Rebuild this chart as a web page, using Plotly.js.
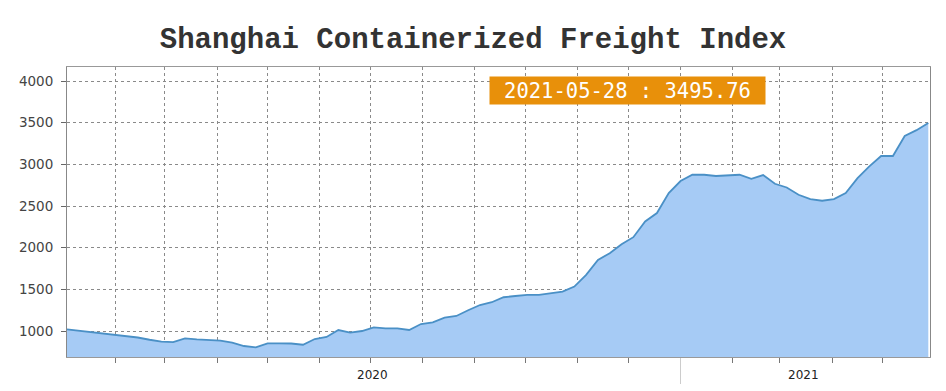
<!DOCTYPE html>
<html>
<head>
<meta charset="utf-8">
<script src="https://cdn.plot.ly/plotly-3.0.1.min.js"></script>
<style>html,body{margin:0;padding:0;background:#fff;}#chart{width:946px;height:391px;}</style>
</head>
<body>
<div id="chart"></div>
<script>
// Weekly SCFI dates (Fridays)
const dates = [
  '2020-01-03','2020-01-10','2020-01-17','2020-01-24','2020-01-31',
  '2020-02-07','2020-02-14','2020-02-21','2020-02-28',
  '2020-03-06','2020-03-13','2020-03-20','2020-03-27',
  '2020-04-03','2020-04-10','2020-04-17','2020-04-24',
  '2020-05-01','2020-05-08','2020-05-15','2020-05-22','2020-05-29',
  '2020-06-05','2020-06-12','2020-06-19','2020-06-26',
  '2020-07-03','2020-07-10','2020-07-17','2020-07-24','2020-07-31',
  '2020-08-07','2020-08-14','2020-08-21','2020-08-28',
  '2020-09-04','2020-09-11','2020-09-18','2020-09-25',
  '2020-10-02','2020-10-09','2020-10-16','2020-10-23','2020-10-30',
  '2020-11-06','2020-11-13','2020-11-20','2020-11-27',
  '2020-12-04','2020-12-11','2020-12-18','2020-12-25',
  '2021-01-01','2021-01-08','2021-01-15','2021-01-22','2021-01-29',
  '2021-02-05','2021-02-12','2021-02-19','2021-02-26',
  '2021-03-05','2021-03-12','2021-03-19','2021-03-26',
  '2021-04-02','2021-04-09','2021-04-16','2021-04-23','2021-04-30',
  '2021-05-07','2021-05-14','2021-05-21','2021-05-28'
];
// Index values
const scfi = [
  1020,1003,987,970,955,
  938,922,895,872,
  866,912,900,888,
  884,860,820,804,
  852,852,850,835,904,
  928,1012,980,1000,
  1044,1032,1032,1012,1084,
  1104,1160,1180,1249,
  1312,1345,1405,1420,
  1433,1433,1450,1473,1533,
  1673,1853,1934,2042,
  2126,2314,2415,2655,
  2800,2875,2875,2860,2863,
  2875,2827,2871,2767,
  2722,2635,2583,2563,
  2583,2655,2835,2975,3100,
  3100,3340,3410,3495.76
];
// Axis labels
const yearLabels = ['2020', '2021'];
const yearLabelPos = ['2020-07-02', '2021-03-15'];
const yearBoundary = ['2021-01-01'];
const titleText = 'Shanghai Containerized Freight Index';

const lastDate = dates[dates.length - 1];
const lastVal = scfi[scfi.length - 1];

const trace = {
  x: dates, y: scfi, type: 'scatter', mode: 'lines',
  fill: 'tozeroy', fillcolor: '#a6cbf5',
  line: {color: '#4a90c6', width: 1.8},
  hoverinfo: 'skip'
};

const gridStyle = {color: '#8a8a8a', dash: 'dot'};

const layout = {
  width: 946, height: 391,
  margin: {l: 67, r: 16, t: 67, b: 34},
  paper_bgcolor: '#ffffff', plot_bgcolor: '#ffffff',
  showlegend: false,
  title: {
    text: titleText,
    font: {family: 'Liberation Mono', size: 29, color: '#333333', weight: 'bold'},
    x: 0.5, xanchor: 'center', y: 1 - 38/391, yanchor: 'middle', yref: 'container'
  },
  xaxis: {
    type: 'date',
    range: ['2020-01-03', '2021-05-29'],
    tickmode: 'array', tickvals: yearBoundary, ticktext: [''],
    ticks: 'outside', ticklen: 26, tickcolor: '#cccccc', tickwidth: 1,
    showgrid: true, gridcolor: gridStyle.color, griddash: gridStyle.dash, gridwidth: 1,
    minor: {
      tickmode: 'linear', tick0: '2020-02-01', dtick: 'M1',
      ticks: 'outside', ticklen: 5, tickcolor: '#777777', tickwidth: 1,
      showgrid: true, gridcolor: gridStyle.color, griddash: gridStyle.dash, gridwidth: 1
    },
    showline: true, linecolor: '#999999', linewidth: 1, mirror: true,
    zeroline: false, fixedrange: true
  },
  yaxis: {
    range: [688, 4168],
    tick0: 0, dtick: 500,
    ticks: 'outside', ticklen: 5, tickcolor: '#666666',
    ticklabelstandoff: 5,
    tickfont: {family: 'DejaVu Sans', size: 13.5, color: '#444444'},
    showgrid: true, gridcolor: gridStyle.color, griddash: gridStyle.dash, gridwidth: 1,
    showline: true, linecolor: '#888888', linewidth: 1, mirror: true,
    zeroline: false, fixedrange: true
  },
  annotations: yearLabels.map((t, i) => ({
    x: yearLabelPos[i], xref: 'x', y: 0, yref: 'paper',
    yshift: -18, yanchor: 'middle', xanchor: 'center',
    text: t, showarrow: false,
    font: {family: 'DejaVu Sans', size: 12, color: '#222222'}
  })).concat([{
    x: 0.649, xref: 'paper', y: 0.919, yref: 'paper',
    xanchor: 'center', yanchor: 'middle', showarrow: false,
    text: lastDate + ' : ' + lastVal.toFixed(2),
    font: {family: 'DejaVu Sans Mono', size: 20.5, color: '#ffffff'},
    bgcolor: '#e8900a', borderpad: 1, width: 273, height: 25
  }])
};

Plotly.newPlot('chart', [trace], layout, {displayModeBar: false, staticPlot: true});
</script>
</body>
</html>
